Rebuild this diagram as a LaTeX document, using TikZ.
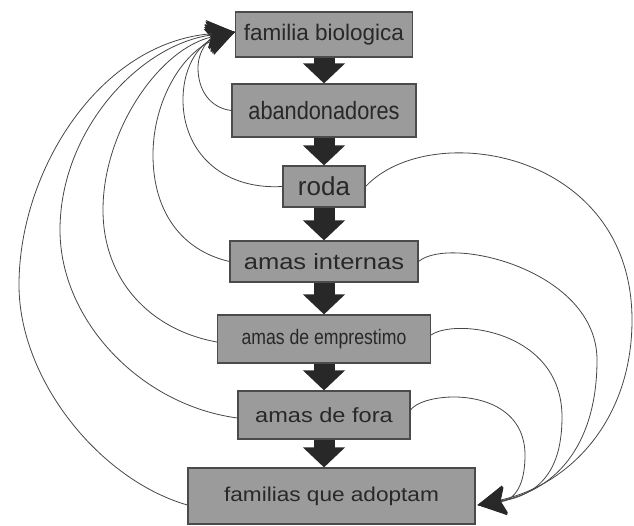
\documentclass[tikz,border=0pt]{standalone}
\usepackage{fontspec}
\setmainfont{Liberation Sans}
\usepackage{graphicx}
\usetikzlibrary{arrows.meta}
\definecolor{boxfill}{RGB}{155,155,155}
\definecolor{boxline}{RGB}{75,75,75}
\definecolor{ink}{RGB}{40,40,40}
\definecolor{curvecol}{RGB}{70,70,70}
\newcommand{\lbl}[3]{\scalebox{#2}[1]{\fontsize{#1}{#1}\selectfont #3}}
\begin{document}
\begin{tikzpicture}[x=1pt,y=-1pt,
  box/.style={draw=boxline, line width=1.2pt, fill=boxfill, text=ink, inner sep=0pt, anchor=center},
  down/.style={draw=ink, line width=21pt, -{Triangle[width=41pt,length=20pt]}},
  backarrow/.style={draw=curvecol, line width=0.8pt, arrows={-Stealth[length=28pt,width=28pt,inset=5pt,fill=ink,color=ink]}}
]
\useasboundingbox (0,0) rectangle (634,526);

\node[box, minimum width=177pt, minimum height=45pt] (fb) at (324,34.5) {\lbl{22.5}{1}{familia biologica}};
\node[box, minimum width=184pt, minimum height=53pt] (ab) at (324,110.5) {\lbl{25}{0.87}{abandonadores}};
\node[box, minimum width=82pt, minimum height=41pt] (ro) at (324,186.5) {\lbl{26}{1}{roda}};
\node[box, minimum width=188pt, minimum height=41pt] (ai) at (324,261.5) {\lbl{22}{1.16}{amas internas}};
\node[box, minimum width=213pt, minimum height=48pt] (ae) at (324,339) {\lbl{21}{0.84}{amas de emprestimo}};
\node[box, minimum width=172pt, minimum height=48pt] (af) at (324,415) {\lbl{20.5}{1.15}{amas de fora}};
\node[box, minimum width=287pt, minimum height=56pt] (fa) at (331.5,496) {\lbl{20}{1.13}{familias que adoptam}};

\draw[down] (fb.south) -- (ab.north);
\draw[down] (ab.south) -- (ro.north);
\draw[down] (ro.south) -- (ai.north);
\draw[down] (ai.south) -- (ae.north);
\draw[down] (ae.south) -- (af.north);
\draw[down] (af.south) -- (af.south |- fa.north);

\coordinate (F) at ([yshift=2.5pt]fb.west);
\coordinate (T) at ([xshift=2pt,yshift=-9pt]fa.east);

% left loops
\draw[backarrow] (ab.west) .. controls (210,108) and (198,90) .. (198,68) .. controls (198,50) and (210,38) .. (F);
\draw[backarrow] (ro.west) .. controls (220,190) and (183,150) .. (183,100) .. controls (183,62) and (203,42) .. (F);
\draw[backarrow] (ai.west) .. controls (180,250) and (153,210) .. (153,155) .. controls (153,100) and (183,52) .. (F);
\draw[backarrow] ([yshift=-3pt]ae.west) .. controls (150,330) and (103,280) .. (103,210) .. controls (103,130) and (160,48) .. (F);
\draw[backarrow] ([yshift=-3pt]af.west) .. controls (140,405) and (60,320) .. (60,230) .. controls (60,130) and (140,44) .. (F);
\draw[backarrow] ([yshift=-9pt]fa.west) .. controls (100,480) and (19,380) .. (19,285) .. controls (19,170) and (100,42) .. (F);

% right loops
\draw[backarrow] (ro.east) .. controls (430,118) and (632,150) .. (632,320) .. controls (632,420) and (570,485) .. (T);
\draw[backarrow] (ai.east) .. controls (450,235) and (597,270) .. (597,360) .. controls (597,440) and (560,490) .. (T);
\draw[backarrow] ([yshift=4pt]ae.east) .. controls (455,318) and (562,330) .. (562,417) .. controls (562,470) and (540,495) .. (T);
\draw[backarrow] ([yshift=5pt]af.east) .. controls (425,390) and (525,385) .. (525,455) .. controls (525,485) and (515,500) .. (T);
\end{tikzpicture}
\end{document}
